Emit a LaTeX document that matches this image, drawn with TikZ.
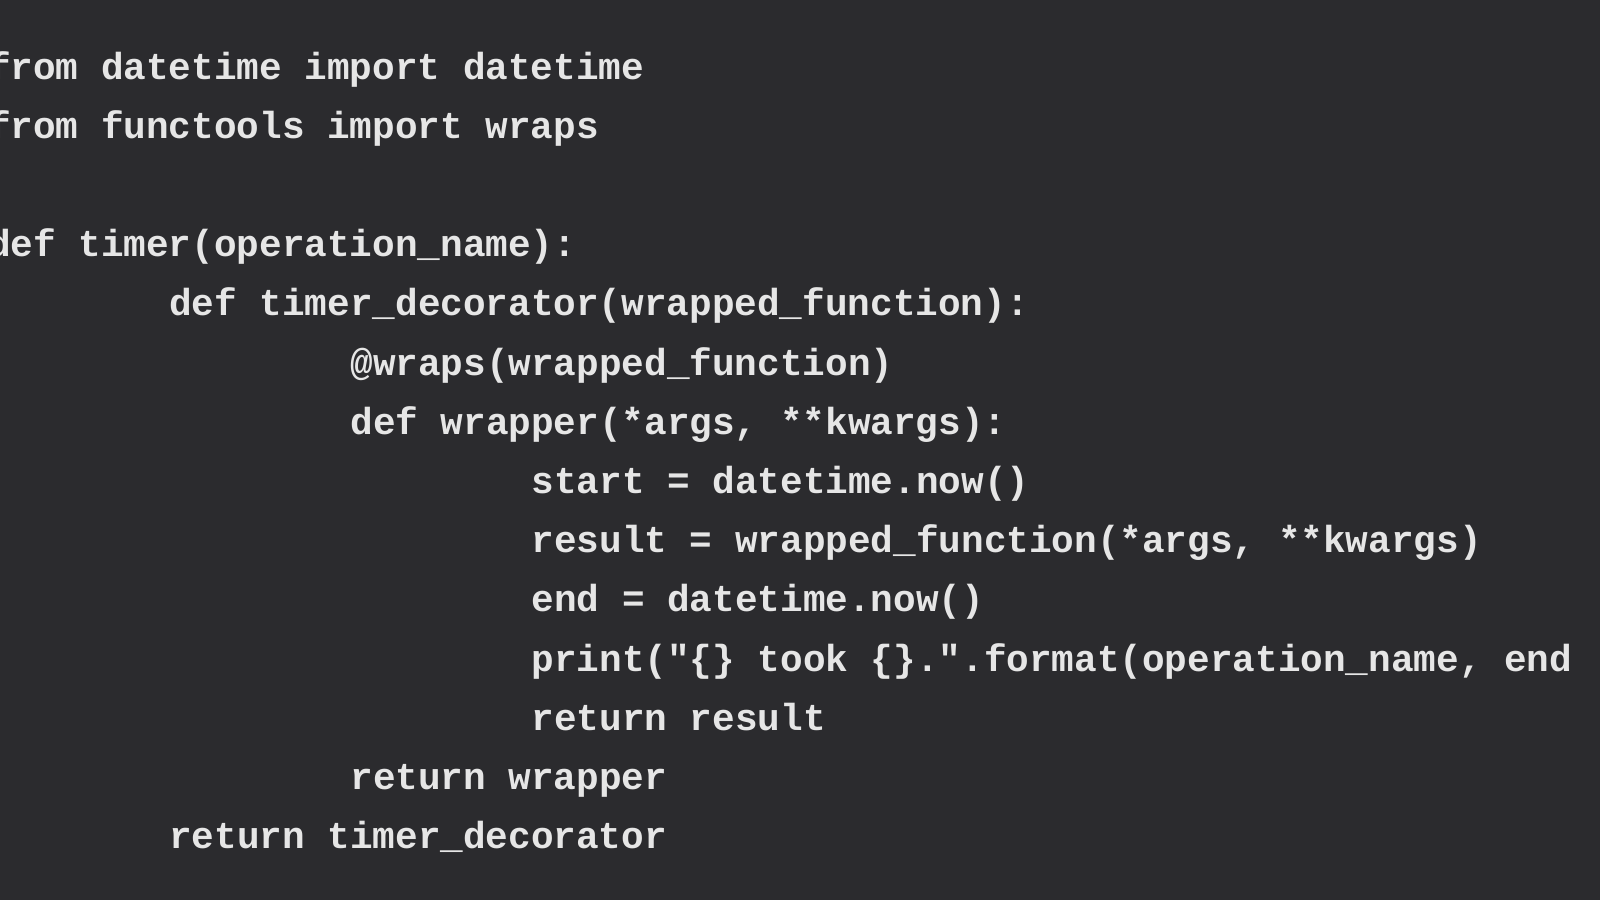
\documentclass[tikz,border=0pt]{standalone}
\usepackage{fontspec}
\newfontfamily\codefont{Liberation Mono}
\definecolor{bg}{HTML}{2B2B2E}
\definecolor{fg}{HTML}{E6E6E6}
\begin{document}
\begin{tikzpicture}[x=1pt,y=-1pt,
  codeline/.style={anchor=base west,inner sep=0pt,text=fg,font=\codefont\bfseries\fontsize{37.7}{37.7}\selectfont}]
\fill[bg] (0,0) rectangle (1600,900);
\useasboundingbox (0,0) rectangle (1600,900);
\begin{scope}
\clip (0,0) rectangle (1600,900);
\def\cw{22.65}
\def\xo{-12.2}
\node[codeline] (l1) at (\xo,79) {from datetime import datetime};
\node[codeline] (l2) at (\xo,138.2) {from functools import wraps};
\node[codeline] (l4) at (\xo,256.6) {def timer(operation\_name):};
\node[codeline] (l5) at (\xo+8*\cw,315.8) {def timer\_decorator(wrapped\_function):};
\node[codeline] (l6) at (\xo+16*\cw,375) {@wraps(wrapped\_function)};
\node[codeline] (l7) at (\xo+16*\cw,434.2) {def wrapper(*args, **kwargs):};
\node[codeline] (l8) at (\xo+24*\cw,493.4) {start = datetime.now()};
\node[codeline] (l9) at (\xo+24*\cw,552.6) {result = wrapped\_function(*args, **kwargs)};
\node[codeline] (l10) at (\xo+24*\cw,611.8) {end = datetime.now()};
\node[codeline] (l11) at (\xo+24*\cw,671) {print("\{\} took \{\}.".format(operation\_name, end};
\node[codeline] (l12) at (\xo+24*\cw,730.2) {return result};
\node[codeline] (l13) at (\xo+16*\cw,789.4) {return wrapper};
\node[codeline] (l14) at (\xo+8*\cw,848.6) {return timer\_decorator};
\end{scope}
\end{tikzpicture}
\end{document}
